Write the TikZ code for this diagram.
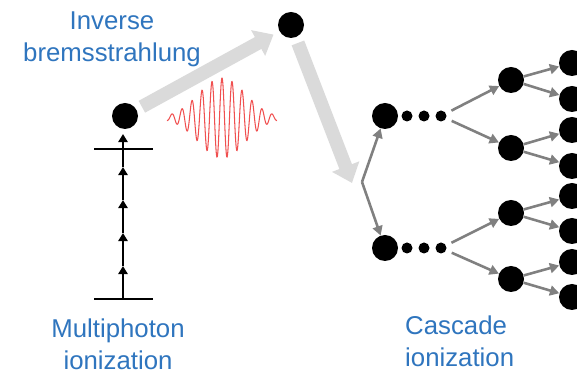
\documentclass[tikz,border=0pt]{standalone}
\usepackage{fontspec}
\setmainfont{Liberation Sans}
\usetikzlibrary{arrows.meta}
\definecolor{labelblue}{RGB}{47,117,190}
\definecolor{wavered}{RGB}{240,80,80}
\definecolor{beamgray}{RGB}{218,218,218}

\begin{document}
\begin{tikzpicture}[x=0.03cm, y=-0.03cm,
  ball/.style={circle, fill=black, inner sep=0pt, minimum size=0.78cm},
  smalldot/.style={circle, fill=black, inner sep=0pt, minimum size=0.33cm},
  caption/.style={text=labelblue, font=\fontsize{22}{27}\selectfont, inner sep=0pt},
  photon/.style={line width=2.2pt, -{Triangle[length=7pt,width=8pt]}},
  split/.style={draw=gray, line width=2.2pt, -{Triangle[length=8pt,width=8.5pt]}},
  beam/.style={draw=beamgray, line width=11.5pt, -{Triangle[length=15pt,width=24pt]}}]
\useasboundingbox (0,0) rectangle (577,374);

% multiphoton ionization
\draw[line width=2.2pt] (94,149) -- (153,149);
\draw[line width=2.2pt] (94,299) -- (153,299);
\foreach \n/\y in {0/299, 1/266, 2/233, 3/200, 4/167, 5/134}
  \coordinate (p\n) at (123,\y);
\foreach \from/\to in {p0/p1, p1/p2, p2/p3, p3/p4, p4/p5}
  \draw[photon] (\from) -- (\to);
\node[ball] (ion) at (125,116) {};
\node[ball] (top) at (291,25) {};

% laser pulse
\draw[wavered, line width=0.9pt] plot[domain=-55:55, samples=400, smooth]
  ({222+\x}, {118-40*exp(-(\x*\x)/1089)*cos(36*\x)});

% inverse bremsstrahlung
\coordinate (fork) at (362,182);
\coordinate (hit) at (352,183);
\draw[beam, shorten <=0.18cm, shorten >=0.2cm] (ion) -- (top);
\draw[beam, shorten <=0.18cm] (top) -- (hit);

% cascade
\node[ball] (c1) at (385,116) {};
\node[ball] (c2) at (385,248) {};
\foreach \n/\x in {1/407, 2/424, 3/441} {
  \node[smalldot] (u\n) at (\x,116) {};
  \node[smalldot] (l\n) at (\x,248) {};
}
\foreach \n/\y in {1/80, 2/148, 3/213, 4/279}
  \node[ball] (b\n) at (511,\y) {};
\foreach \n/\y in {1/63, 2/99, 3/130, 4/166, 5/196, 6/231, 7/262, 8/297}
  \node[ball] (r\n) at (572,\y) {};
\foreach \from/\to in {fork/c1, fork/c2, b1/r1, b1/r2, b2/r3, b2/r4, b3/r5, b3/r6, b4/r7, b4/r8}
  \draw[split] (\from) -- (\to);
\foreach \from/\to in {u3/b1, u3/b2, l3/b3, l3/b4}
  \draw[split, shorten <=0.18cm] (\from) -- (\to);

% labels
\node[caption, align=center] (ib) at (112,39) {Inverse\\bremsstrahlung};
\node[caption, align=center] (mp) at (118,344) {Multiphoton\\ionization};
\node[caption, align=left, anchor=west] (ci) at (405,341) {Cascade\\ionization};
\end{tikzpicture}
\end{document}
